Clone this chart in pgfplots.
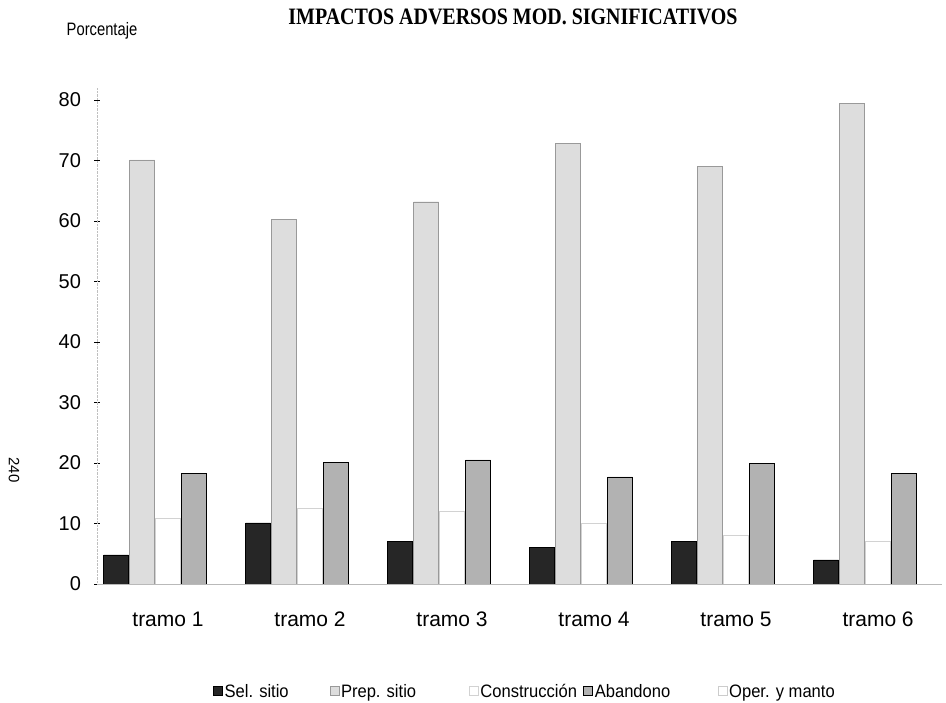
\documentclass[border=0pt]{standalone}
\usepackage{fontspec}
\setmainfont{Liberation Sans}
\newfontfamily\titlefont[FakeStretch=0.85]{Liberation Serif}
\newfontfamily\narrowfont[FakeStretch=0.82]{Liberation Sans}
\newfontfamily\legendfont[FakeStretch=0.92]{Liberation Sans}
\usepackage{pgfplots}
\usepackage{pgfplotstable}
\pgfplotsset{compat=1.18}
\pgfplotstableread{
x sel prep cons aband oper
0 4.8 70.1 10.8 18.3 0
1 10.1 60.3 12.5 20.1 0
2 7.0 63.2 12.0 20.5 0
3 6.1 72.8 10.0 17.7 0
4 7.1 69.0 8.0 20.0 0
5 4.0 79.5 7.0 18.3 0
}\datatable
\begin{document}
\begin{tikzpicture}[x=1pt,y=1pt]
\path[use as bounding box] (0,0) rectangle (946,703);
\begin{axis}[
  at={(97pt,119pt)}, anchor=south west,
  scale only axis, width=845pt, height=496pt,
  xmin=-0.5, xmax=5.45, ymin=0, ymax=82,
  enlargelimits=false,
  axis lines=left,
  axis line style={-},
  x axis line style={draw=gray!55},
  y axis line style={draw=gray!50, densely dotted},
  ybar, bar width=0.176,
  xtick={0,1,2,3,4,5},
  xticklabels={tramo 1,tramo 2,tramo 3,tramo 4,tramo 5,tramo 6},
  major x tick style={draw=none},
  xticklabel style={font=\fontsize{21}{24}\selectfont, yshift=-22pt},
  ytick={0,10,...,80},
  major y tick style={black, line width=0.8pt},
  tick align=center,
  major tick length=5pt,
  /pgf/number format/assume math mode=true,
  yticklabel style={font=\fontsize{20}{24}\selectfont, xshift=-10pt},
  legend style={at={(0.0,-0.218)}, anchor=west, xshift=113pt, draw=none, fill=none,
    legend columns=5, font=\legendfont\fontsize{18}{20}\selectfont,
    nodes={inner xsep=1pt},
    /tikz/every odd column/.append style={column sep=1pt},
    /tikz/every even column/.append style={column sep=0pt}},
  legend cell align=left,
  legend image code/.code={\draw[#1,/tikz/.cd,yshift=-0.3em] (0pt,0pt) rectangle (9pt,9pt);},
]
\addplot[bar shift=-0.366, fill=black!85, draw=black] table[x=x,y=sel] {\datatable};
\addlegendentry{\makebox[104pt][l]{Sel. sitio}}
\addplot[bar shift=-0.183, fill=gray!27, draw=gray!80] table[x=x,y=prep] {\datatable};
\addlegendentry{\makebox[127pt][l]{Prep. sitio}}
\addplot[bar shift=0, fill=white, draw=gray!35] table[x=x,y=cons] {\datatable};
\addlegendentry{\makebox[102pt][l]{Construcción}}
\addplot[bar shift=0.183, fill=gray!60, draw=black] table[x=x,y=aband] {\datatable};
\addlegendentry{\makebox[122pt][l]{Abandono}}
\addplot[bar shift=0.366, fill=white, draw=gray!40] table[x=x,y=oper] {\datatable};
\addlegendentry{Oper. y manto}
\end{axis}
\node[font=\titlefont\bfseries\fontsize{23.5}{26}\selectfont] at (513,686) {IMPACTOS ADVERSOS MOD. SIGNIFICATIVOS};
\node[font=\narrowfont\fontsize{18}{20}\selectfont] at (102,672) {Porcentaje};
\node[font=\fontsize{15}{18}\selectfont, rotate=-90] at (14,233) {240};
\end{tikzpicture}
\end{document}
